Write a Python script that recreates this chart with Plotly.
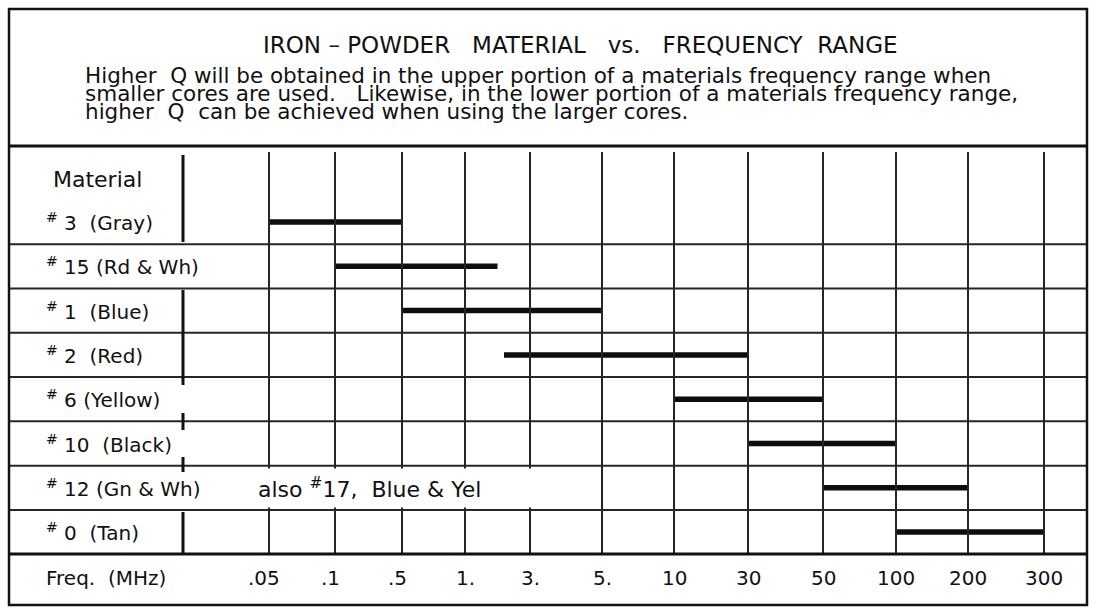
import numpy as np
import plotly.graph_objects as go

# ---------------- data ----------------
TITLE = "IRON \u2013 POWDER\u00a0\u00a0 MATERIAL\u00a0\u00a0 vs.\u00a0\u00a0 FREQUENCY\u00a0 RANGE"
NOTE_LINES = [
    "Higher\u00a0 Q will be obtained in the upper portion of a materials frequency range when",
    "smaller cores are used.\u00a0\u00a0 Likewise, in the lower portion of a materials frequency range,",
    "higher\u00a0 Q\u00a0 can be achieved when using the larger cores.",
]
HEADER_LABEL = "Material"
MATERIALS = [
    "<sup>#</sup> 3\u00a0 (Gray)",
    "<sup>#</sup> 15 (Rd & Wh)",
    "<sup>#</sup> 1\u00a0 (Blue)",
    "<sup>#</sup> 2\u00a0 (Red)",
    "<sup>#</sup> 6 (Yellow)",
    "<sup>#</sup> 10\u00a0 (Black)",
    "<sup>#</sup> 12 (Gn & Wh)",
    "<sup>#</sup> 0\u00a0 (Tan)",
]
START_MHZ = [0.05, 0.1, 0.5, 2.2, 10, 30, 50, 100]
END_MHZ = [0.5, 2.0, 5, 30, 50, 100, 200, 300]
TICK_MHZ = [0.05, 0.1, 0.5, 1, 3, 5, 10, 30, 50, 100, 200, 300]
TICK_LABELS = [".05", ".1", ".5", "1.", "3.", "5.", "10", "30", "50", "100", "200", "300"]
AXIS_LABEL = "Freq.\u00a0 (MHz)"
ROW_NOTE = "also <sup>#</sup>17,\u00a0 Blue & Yel"
ROW_NOTE_ROW = 6

# ---------------- layout constants ----------------
W, H = 1093, 611
FONT = "DejaVu Sans"
INK = "#111"
GRID_X = [269, 335, 402, 465, 530, 602, 674, 748, 823, 896, 968, 1044]  # column positions (px units)
ROW0_PX, ROW_PITCH = 222, 44.3
BOX_L, BOX_R, BOX_T, BOX_B = 9, 1087, 9, 605
HEAD_PX, GRID_BOT_PX = 146, 554
LABEL_X, SEP_X = 44, 183


def row_of(px):
    return (px - ROW0_PX) / ROW_PITCH


n = len(MATERIALS)
rows = list(range(n))


def fx(f):
    return float(np.interp(f, TICK_MHZ, GRID_X))


fig = go.Figure()

# bars
bx, by = [], []
for i, (s, e) in enumerate(zip(START_MHZ, END_MHZ)):
    bx += [fx(s), fx(e), None]
    by += [i, i, None]
fig.add_trace(go.Scatter(x=bx, y=by, mode="lines", line=dict(color="#0d0d0d", width=5.5),
                         hoverinfo="skip", showlegend=False))

shapes = []
line_c = "#262626"
grid_top = row_of(152)
grid_bot = row_of(GRID_BOT_PX)
# vertical gridlines
for gx in GRID_X:
    shapes.append(dict(type="line", xref="x", yref="y", x0=gx, x1=gx, y0=grid_top, y1=grid_bot,
                       line=dict(color=line_c, width=2)))
# horizontal row lines
for i in range(n - 1):
    shapes.append(dict(type="line", xref="x", yref="y", x0=BOX_L, x1=BOX_R, y0=i + 0.5, y1=i + 0.5,
                       line=dict(color=line_c, width=2)))
# header & bottom thick lines
for ypx in (HEAD_PX, GRID_BOT_PX):
    shapes.append(dict(type="line", xref="x", yref="y", x0=BOX_L, x1=BOX_R,
                       y0=row_of(ypx), y1=row_of(ypx), line=dict(color="#111", width=3)))
# label separator segments
for a, b in [(155, 242), (290, 385), (413, 430), (457, 472), (512, GRID_BOT_PX)]:
    shapes.append(dict(type="line", xref="x", yref="y", x0=SEP_X, x1=SEP_X,
                       y0=row_of(a), y1=row_of(b), line=dict(color="#111", width=3)))
# outer border
shapes.append(dict(type="rect", xref="x", yref="y", x0=BOX_L, x1=BOX_R,
                   y0=row_of(BOX_T), y1=row_of(BOX_B), line=dict(color="#111", width=2.5)))

lab_font = dict(family=FONT, size=20, color=INK)
annotations = [
    dict(x=580, y=row_of(45), xref="x", yref="y", text=TITLE, showarrow=False,
         font=dict(family=FONT, size=23, color=INK), xanchor="center", yanchor="middle"),
    dict(x=97, y=row_of(179), xref="x", yref="y", text=HEADER_LABEL, showarrow=False,
         font=dict(family=FONT, size=22, color=INK), xanchor="center", yanchor="middle"),
    dict(x=LABEL_X, y=row_of(578), xref="x", yref="y", text=AXIS_LABEL, showarrow=False,
         font=lab_font, xanchor="left", yanchor="middle"),
    dict(x=256, y=ROW_NOTE_ROW, xref="x", yref="y", text=ROW_NOTE, showarrow=False,
         font=dict(family=FONT, size=22, color=INK), xanchor="left", yanchor="middle",
         bgcolor="white", height=36, width=290, align="left"),
]
for i, txt in enumerate(MATERIALS):
    annotations.append(dict(x=LABEL_X, y=rows[i], xref="x", yref="y", text=txt, showarrow=False,
                            font=lab_font, xanchor="left", yanchor="middle"))
for gx, txt in zip(GRID_X, TICK_LABELS):
    shift = -5 if txt.startswith(".") else 0
    annotations.append(dict(x=gx, y=row_of(578), xref="x", yref="y", text=txt, showarrow=False,
                            font=lab_font, xanchor="center", yanchor="middle", xshift=shift))
for k, txt in enumerate(NOTE_LINES):
    annotations.append(dict(x=83, y=row_of(75 + 18 * k), xref="x", yref="y", text=txt,
                            showarrow=False, font=dict(family=FONT, size=21.5, color=INK),
                            xanchor="left", yanchor="middle"))

fig.update_layout(
    width=W, height=H, margin=dict(l=0, r=0, t=0, b=0),
    paper_bgcolor="white", plot_bgcolor="white",
    xaxis=dict(range=[0, W], domain=[0, 1], visible=False, fixedrange=True),
    yaxis=dict(range=[row_of(H), row_of(0)], domain=[0, 1], visible=False, fixedrange=True),
    shapes=shapes, annotations=annotations, showlegend=False,
)

fig.write_html("out.html", post_script="document.body.style.margin='0';document.body.style.overflow='hidden';",
               config={"displayModeBar": False})
